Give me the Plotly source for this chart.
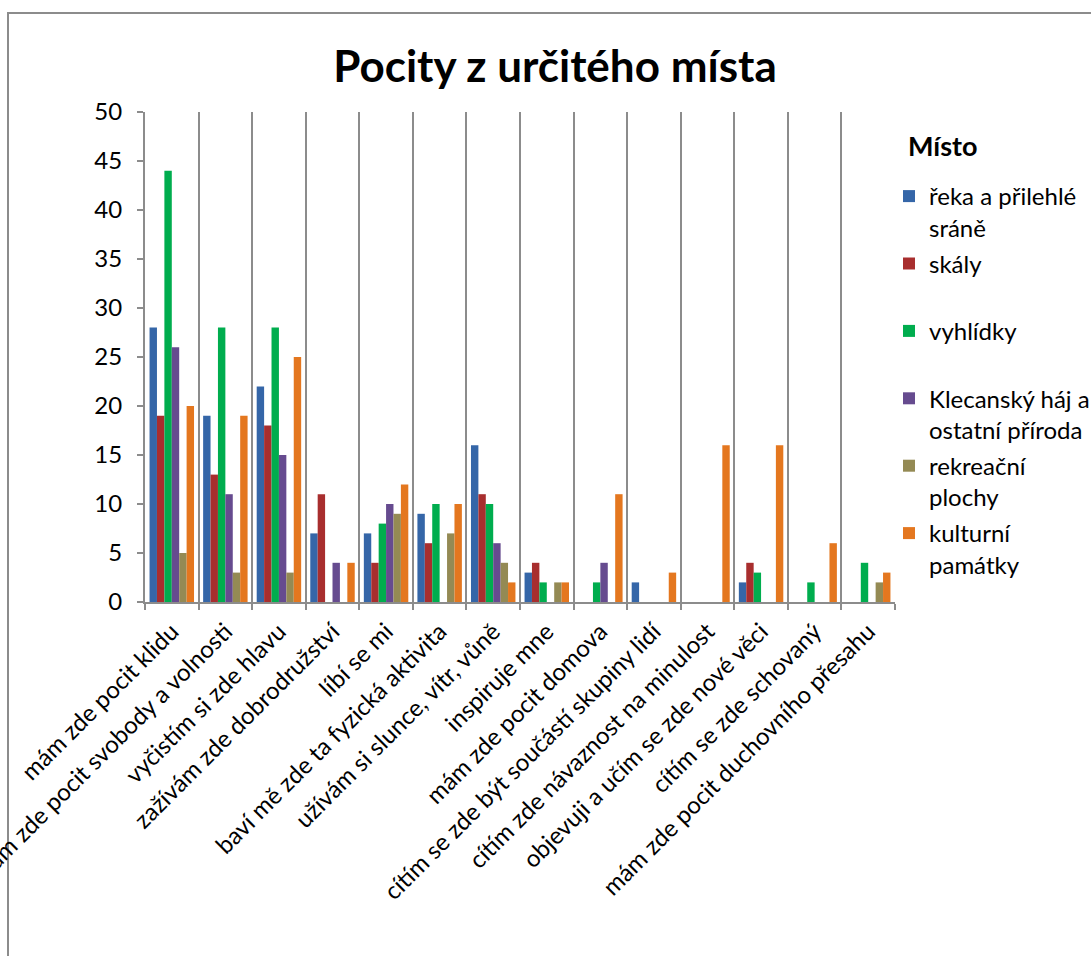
import plotly.graph_objects as go

# Feelings (categories) and counts per place
categories = [
    "mám zde pocit klidu",
    "mám zde pocit svobody a volnosti",
    "vyčistím si zde hlavu",
    "zažívám zde dobrodružství",
    "líbí se mi",
    "baví mě zde ta fyzická aktivita",
    "užívám si slunce, vítr, vůně",
    "inspiruje mne",
    "mám zde pocit domova",
    "cítím se zde být součástí skupiny lidí",
    "cítím zde návaznost na minulost",
    "objevuji a učím se zde nové věci",
    "cítím se zde schovaný",
    "mám zde pocit duchovního přesahu",
]

reka = [28, 19, 22, 7, 7, 9, 16, 3, 0, 2, 0, 2, 0, 0]
skaly = [19, 13, 18, 11, 4, 6, 11, 4, 0, 0, 0, 4, 0, 0]
vyhlidky = [44, 28, 28, 0, 8, 10, 10, 2, 2, 0, 0, 3, 2, 4]
klecansky = [26, 11, 15, 4, 10, 0, 6, 0, 4, 0, 0, 0, 0, 0]
rekreacni = [5, 3, 3, 0, 9, 7, 4, 2, 0, 0, 0, 0, 0, 2]
kulturni = [20, 19, 25, 4, 12, 10, 2, 2, 11, 3, 16, 16, 6, 3]

series_names = [
    "řeka a přilehlé<br>sráně",
    "skály<br>\u00a0",
    "vyhlídky<br>\u00a0",
    "Klecanský háj a<br>ostatní příroda",
    "rekreační<br>plochy",
    "kulturní<br>památky",
]
series_values = [reka, skaly, vyhlidky, klecansky, rekreacni, kulturni]
series_colors = ["#3566A8", "#A82E2E", "#00AD4E", "#664B8F", "#948A54", "#E4771F"]

FONT = "Lato"

fig = go.Figure()
for i, (name, vals, col) in enumerate(zip(series_names, series_values, series_colors)):
    fig.add_trace(go.Bar(
        x=categories,
        y=vals,
        name=name,
        legendgroup=f"g{i}",
        marker=dict(color=col, line=dict(width=0)),
    ))

W, H = 1091, 956
L, R, T, B = 145, 196, 112, 354
pw, ph = W - L - R, H - T - B


def px_x(p):
    return (p - L) / pw


def px_y(p):
    return (H - B - p) / ph


fig.update_layout(
    width=W,
    height=H,
    margin=dict(l=L, r=R, t=T, b=B, autoexpand=False),
    paper_bgcolor="white",
    plot_bgcolor="white",
    barmode="group",
    bargap=0.17,
    bargroupgap=0.0,
    font=dict(family=FONT, color="black"),
    title=dict(
        text="<b>Pocity z určitého místa</b>",
        font=dict(family=FONT, size=44, color="black"),
        x=555 / W,
        xanchor="center",
        xref="container",
        y=1 - 67 / H,
        yanchor="middle",
        yref="container",
    ),
    legend=dict(
        font=dict(family=FONT, size=24, color="black"),
        x=px_x(889),
        xanchor="left",
        y=px_y(174),
        yanchor="top",
        bgcolor="rgba(0,0,0,0)",
        valign="top",
        traceorder="grouped",
        tracegroupgap=2,
        itemsizing="constant",
    ),
    annotations=[
        dict(
            text="<b>Místo</b>",
            font=dict(family=FONT, size=27, color="black"),
            xref="paper",
            yref="paper",
            x=px_x(906),
            y=px_y(145),
            xanchor="left",
            yanchor="middle",
            showarrow=False,
        )
    ],
    xaxis=dict(
        type="category",
        tickangle=-45,
        tickfont=dict(family=FONT, size=24, color="black"),
        ticklabelstandoff=4,
        automargin=False,
        showgrid=True,
        gridcolor="#8C8C8C",
        gridwidth=2,
        tickson="boundaries",
        ticks="outside",
        ticklen=6,
        tickwidth=2,
        tickcolor="#8C8C8C",
        showline=True,
        linecolor="#8C8C8C",
        linewidth=2,
        zeroline=False,
        fixedrange=True,
    ),
    yaxis=dict(
        range=[0, 50],
        dtick=5,
        tick0=0,
        tickfont=dict(family=FONT, size=24, color="black"),
        ticklabelstandoff=10,
        automargin=False,
        showgrid=False,
        ticks="outside",
        ticklen=6,
        tickwidth=2,
        tickcolor="#8C8C8C",
        showline=True,
        linecolor="#8C8C8C",
        linewidth=2,
        zeroline=False,
        fixedrange=True,
    ),
    shapes=[
        dict(
            type="rect",
            xref="paper",
            yref="paper",
            x0=px_x(8),
            x1=px_x(1120),
            y0=px_y(990),
            y1=px_y(13),
            line=dict(color="#8C8C8C", width=2),
            fillcolor="rgba(0,0,0,0)",
            layer="below",
        )
    ],
)

fig.write_html("out.html")
